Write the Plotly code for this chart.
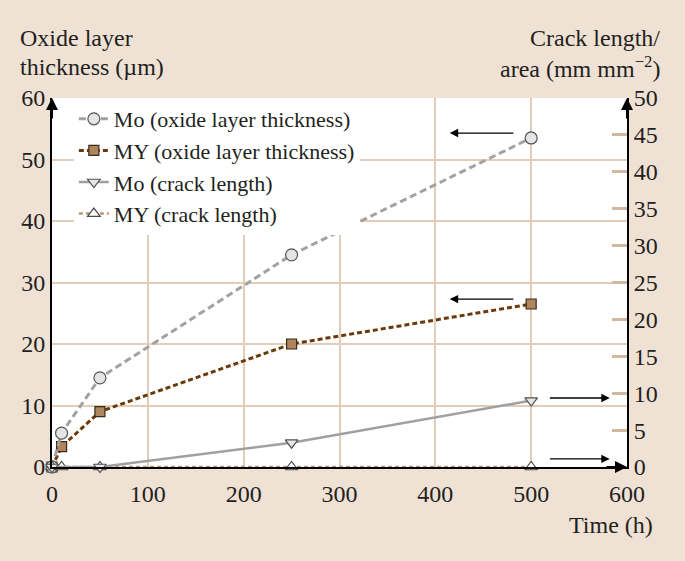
import plotly.graph_objects as go

# Data
time_mo_ox = [0, 10, 50, 250, 500]
mo_oxide = [0, 5.5, 14.5, 34.5, 53.5]
time_my_ox = [0, 10, 50, 250, 500]
my_oxide = [0, 3.3, 9, 20, 26.5]
time_mo_cr = [0, 50, 250, 500]
mo_crack = [0, 0, 3.3, 9]
time_my_cr = [0, 10, 50, 250, 500]
my_crack = [0, 0, 0, 0, 0]

x_ticks = [0, 100, 200, 300, 400, 500, 600]
y_ticks = [0, 10, 20, 30, 40, 50, 60]
y2_ticks = [0, 5, 10, 15, 20, 25, 30, 35, 40, 45, 50]

FONT = "Liberation Serif, Times New Roman, serif"
TXT = "#231F20"
TAN = "#E3CDB6"
BG = "#EFE2D5"
FS = 24

fig = go.Figure()
fig.add_trace(go.Scatter(
    x=time_my_cr, y=my_crack, yaxis="y2", mode="lines+markers",
    name="MY (crack length)", cliponaxis=False,
    line=dict(color="#B8997A", width=2.5, dash="4px,3px"),
    marker=dict(symbol="triangle-up", size=11, color="white",
                line=dict(color="#4A4A4A", width=1.2))))
fig.add_trace(go.Scatter(
    x=time_mo_cr, y=mo_crack, yaxis="y2", mode="lines+markers",
    name="Mo (crack length)", cliponaxis=False,
    line=dict(color="#A0A0A3", width=2.5),
    marker=dict(symbol="triangle-down", size=11, color="#E6E6E6",
                line=dict(color="#505050", width=1.2))))
fig.add_trace(go.Scatter(
    x=time_my_ox, y=my_oxide, mode="lines+markers",
    name="MY (oxide layer thickness)", cliponaxis=False,
    line=dict(color="#6B3A0C", width=3, dash="5px,3px"),
    marker=dict(symbol="square", size=10, color="#B0855C",
                line=dict(color="#3A2A1A", width=1.2))))
fig.add_trace(go.Scatter(
    x=time_mo_ox, y=mo_oxide, mode="lines+markers",
    name="Mo (oxide layer thickness)", cliponaxis=False,
    line=dict(color="#A2A2A4", width=3, dash="7px,4px"),
    marker=dict(symbol="circle", size=12, color="#E4E4E4",
                line=dict(color="#555555", width=1.2))))

fig.update_layout(
    width=685, height=561,
    paper_bgcolor=BG, plot_bgcolor="white",
    margin=dict(l=52, r=58, t=98, b=94),
    font=dict(family=FONT, size=FS, color=TXT),
    showlegend=True,
    legend=dict(x=0.038, y=1.0, xanchor="left", yanchor="top",
                bgcolor="white", borderwidth=0, traceorder="reversed",
                font=dict(family=FONT, size=22, color=TXT),
                itemwidth=30, tracegroupgap=0),
    xaxis=dict(range=[0, 600], tickvals=x_ticks, showgrid=True, gridcolor=TAN,
               gridwidth=2, showline=True, linecolor="black", linewidth=2,
               zeroline=False, ticks="", tickfont=dict(size=FS),
               ticklabelstandoff=4),
    yaxis=dict(range=[0, 60], tickvals=y_ticks, showgrid=True, gridcolor=TAN,
               gridwidth=2, showline=True, linecolor="black", linewidth=2,
               zeroline=False, ticks="", tickfont=dict(size=FS)),
    yaxis2=dict(range=[0, 50], tickvals=y2_ticks, overlaying="y", side="right",
                showgrid=False, showline=True, linecolor="black", linewidth=2,
                zeroline=False, ticks="inside", ticklen=15, tickwidth=3,
                tickcolor="#D2B89C", tickfont=dict(size=FS)),
)

def arrow(**kw):
    d = dict(text="", showarrow=True, arrowhead=2, arrowcolor="black")
    d.update(kw)
    return d

anns = [
    # axis arrow heads
    arrow(xref="paper", yref="paper", x=0, y=1.0, ax=0, ay=22, arrowsize=1.2, arrowwidth=2),
    arrow(xref="paper", yref="paper", x=1, y=1.0, ax=0, ay=22, arrowsize=1.2, arrowwidth=2),
    arrow(xref="paper", yref="paper", x=1, y=0, ax=-22, ay=0, arrowsize=1.2, arrowwidth=2),
    # data arrows pointing to axes
    arrow(xref="x", yref="y", axref="x", ayref="y", x=415, y=54.3, ax=483, ay=54.3,
          arrowsize=1.3, arrowwidth=1.3),
    arrow(xref="x", yref="y", axref="x", ayref="y", x=415, y=27.3, ax=483, ay=27.3,
          arrowsize=1.3, arrowwidth=1.3),
    arrow(xref="x", yref="y2", axref="x", ayref="y2", x=582, y=9.35, ax=518, ay=9.35,
          arrowsize=1.3, arrowwidth=1.3),
    arrow(xref="x", yref="y2", axref="x", ayref="y2", x=582, y=1.1, ax=518, ay=1.1,
          arrowsize=1.3, arrowwidth=1.3),
]
title_font = dict(family=FONT, size=FS, color=TXT)
for txt, x, y, xa in [
    ("Oxide layer", -0.059, 1.162, "left"),
    ("thickness (µm)", -0.059, 1.085, "left"),
    ("Crack length/", 1.061, 1.162, "right"),
    ("area (mm mm<sup>−2</sup>)", 1.061, 1.083, "right"),
    ("Time (h)", 1.049, -0.157, "right"),
]:
    anns.append(dict(xref="paper", yref="paper", x=x, y=y, xanchor=xa, yanchor="middle",
                     showarrow=False, text=txt, font=title_font))
fig.update_layout(annotations=anns)

fig.write_html("out.html", config={"displayModeBar": False},
               post_script="document.body.style.margin='0';")
